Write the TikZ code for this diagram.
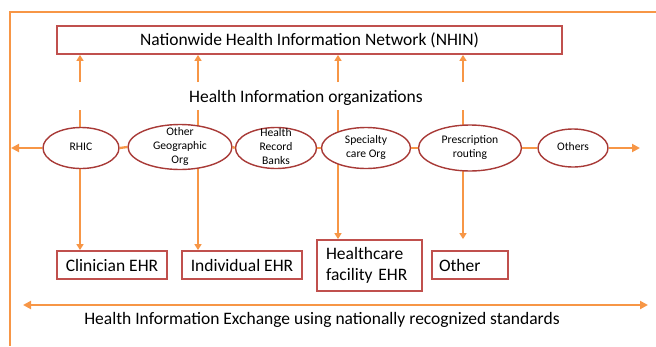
\documentclass[tikz,border=0pt]{standalone}
\usepackage{fontspec}
\setmainfont{Carlito}
\usetikzlibrary{shapes.geometric,arrows.meta}
\definecolor{hieorange}{HTML}{F79646}
\definecolor{hiered}{HTML}{C0504D}
\definecolor{hieoval}{HTML}{A83A37}
\newcommand{\orgtxt}[1]{\raisebox{-3pt}[0pt][0pt]{\begin{tabular}{@{}c@{}}#1\end{tabular}}}
\tikzset{
	link/.style={draw=hieorange, line width=1.7pt},
	bus/.style={draw=hieorange, line width=2.3pt},
	tip/.style={-{Triangle[length=6pt,width=7pt]}},
	bigtip/.style={-{Triangle[length=8pt,width=8pt]}},
	bothtips/.style={{Triangle[length=8pt,width=8pt]}-{Triangle[length=8pt,width=8pt]}},
	rbox/.style={draw=hiered, line width=1.8pt, fill=white, inner sep=0pt, font=\fontsize{17.5}{21}\selectfont},
	org/.style={ellipse, draw=hieoval, line width=1.4pt, fill=white, inner sep=0pt, font=\fontsize{11.6}{14}\selectfont},
	big/.style={font=\fontsize{17.5}{21}\selectfont},
}
\begin{document}
\begin{tikzpicture}[x=1pt,y=-1pt]
		\useasboundingbox (0,0) rectangle (656,346);
		\draw [link, line width=1.3pt] (656,12) to (10,12) to (10,346);

		\node [rbox, minimum width=505, minimum height=28] (nhin) at (309.5,40) {Nationwide Health Information Network (NHIN)};
		\node [big] (hio) at (306,98) {Health Information organizations};

		\node [rbox, minimum width=110, minimum height=28] (clin) at (112,265) {Clinician EHR};
		\node [rbox, minimum width=120, minimum height=28] (indiv) at (242,265) {Individual EHR};
		\node [rbox, minimum width=105, minimum height=51, text width=87, align=left] (facil) at (369.5,265.5) {Healthcare\\facility EHR};
		\node [rbox, minimum width=76, minimum height=28, text width=62, align=left] (other) at (470,265) {Other};

		\coordinate (u1) at (80,82);
		\coordinate (u2) at (198,82);
		\coordinate (u3) at (338,82);
		\coordinate (u4) at (463,82);
		\coordinate (d1) at (80,110);
		\coordinate (d2) at (198,110);
		\coordinate (d3) at (338,110);
		\coordinate (d4) at (463,110);

		\draw [link, tip] (u1) to (u1 |- nhin.south);
		\draw [link, tip] (u2) to (u2 |- nhin.south);
		\draw [link, tip] (u3) to (u3 |- nhin.south);
		\draw [link, tip] (u4) to (u4 |- nhin.south);

		\draw [link, tip] (d1) to (d1 |- clin.north);
		\draw [link, tip] (d2) to (d2 |- indiv.north);
		\draw [link, tip] (d3) to (d3 |- facil.north);
		\draw [link, tip] (d4) to (d4 |- facil.north);

		\node [org, minimum width=76, minimum height=41] (rhic) at (81,148) {\orgtxt{RHIC}};
		\node [org, minimum width=104, minimum height=45] (geo) at (180,147) {\orgtxt{Other\\Geographic\\Org}};
		\node [org, minimum width=81, minimum height=41] (hrb) at (276,148) {\orgtxt{Health\\Record\\Banks}};
		\node [org, minimum width=89, minimum height=41] (spec) at (366,148) {\orgtxt{Specialty\\care Org}};
		\node [org, minimum width=103, minimum height=46] (presc) at (470,148) {\orgtxt{Prescription\\routing}};
		\node [org, minimum width=70, minimum height=38] (others) at (573,148) {\orgtxt{Others}};

		\coordinate (lt) at (11,148);
		\coordinate (rt) at (640,148);
		\draw [bus, bigtip] (rhic.west) to (lt);
		\draw [bus] (rhic.east) to (geo.west);
		\draw [bus] (geo.east) to (hrb.west);
		\draw [bus] (hrb.east) to (spec.west);
		\draw [bus] (spec.east) to (presc.west);
		\draw [bus] (presc.east) to (others.west);
		\draw [bus, bigtip] (others.east) to (rt);

		\coordinate (bl) at (23,305);
		\coordinate (br) at (648,305);
		\draw [bus, bothtips] (bl) to (br);
		\node [big] (hie) at (322,320) {Health Information Exchange using nationally recognized standards};
\end{tikzpicture}
\end{document}
